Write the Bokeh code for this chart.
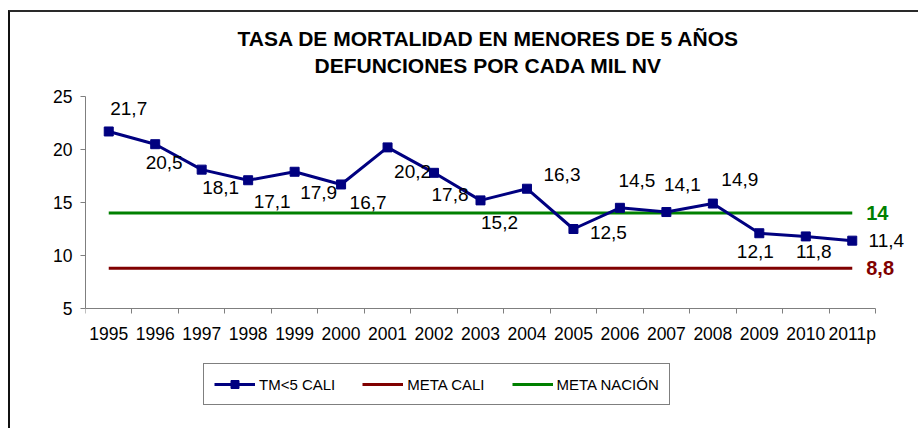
from bokeh.plotting import figure
from bokeh.models import (Range1d, FixedTicker, ColumnDataSource, LabelSet,
                          Legend, LegendItem, Title)
from bokeh.core.properties import value
from bokeh.embed import file_html
from bokeh.resources import INLINE

# ---- data ----
years = ["1995", "1996", "1997", "1998", "1999", "2000", "2001", "2002", "2003",
         "2004", "2005", "2006", "2007", "2008", "2009", "2010", "2011p"]
tm5_cali = [21.7, 20.5, 18.1, 17.1, 17.9, 16.7, 20.2, 17.8, 15.2,
            16.3, 12.5, 14.5, 14.1, 14.9, 12.1, 11.8, 11.4]
meta_cali = 8.8
meta_nacion = 14.0
y_min, y_max = 5, 25
y_ticks = [5, 10, 15, 20, 25]

# label placement (screen px, style only)
label_dx = [20, 9, 19, 24, 24, 27, 25, 16, 19, 35, 35, 17, 16, 27, -4, 8, 34]
label_dy = [23, -18, -18, -21, -21, -18, -24, -22, -22, 14, -3, 27, 28, 24, -18, -15, 0]

FONT = "Liberation Sans"
NAVY = "#000080"
RED = "#800000"
GREEN = "#008000"
AXIS = "#7f7f7f"

n = len(years)
xs = [i + 0.5 for i in range(n)]

# layout (pixels)
W, H = 910, 418
ML, MR, MT, MB = 75, 5, 84, 0
AX_W, AX_H = 790.0, 212.0          # size of the axes box (categories x 5..25)
frame_w, frame_h = W - ML - MR, H - MT - MB
x_end = n * frame_w / AX_W
y_start = y_min - (frame_h - AX_H) * (y_max - y_min) / AX_H

p = figure(width=W, height=H, output_backend="svg", toolbar_location=None,
           x_range=Range1d(0, x_end), y_range=Range1d(y_start, y_max),
           min_border_left=ML, min_border_right=MR, min_border_top=MT,
           min_border_bottom=MB, background_fill_color="white",
           border_fill_color="white", outline_line_color=None)
p.styles = {"margin-left": "8px", "margin-top": "10px",
            "border-top": "2px solid #2a2a2a", "border-left": "2px solid #111111"}

# titles (first added sits closest to the frame); a tiny blank spacer first
spacer = Title(text=" ", text_font_size="1px", standoff=10, vertical_align="bottom")
t2 = Title(text="DEFUNCIONES POR CADA MIL NV", align="left", offset=229,
           text_font=FONT, text_font_size="21px", text_font_style="bold",
           text_color="black", standoff=9, vertical_align="top")
t1 = Title(text="TASA DE MORTALIDAD EN MENORES DE 5 AÑOS", align="left", offset=152,
           text_font=FONT, text_font_size="21px", text_font_style="bold",
           text_color="black", standoff=0, vertical_align="bottom")
p.add_layout(spacer, "above")
p.add_layout(t2, "above")
p.add_layout(t1, "above")

p.grid.visible = False

# x axis (sits on y = 5)
p.xaxis.fixed_location = y_min
p.xaxis.bounds = (0, n)
p.xaxis.ticker = FixedTicker(ticks=xs, minor_ticks=list(range(n + 1)))
p.xaxis.major_label_overrides = {x: y for x, y in zip(xs, years)}
p.xaxis.major_tick_out = 0
p.xaxis.major_tick_in = 0
p.xaxis.minor_tick_out = 5
p.xaxis.minor_tick_in = 0
p.xaxis.minor_tick_line_color = AXIS
p.xaxis.axis_line_color = AXIS
p.xaxis.major_label_standoff = 10
p.xaxis.major_label_text_font = FONT
p.xaxis.major_label_text_font_size = "17.5px"
p.xaxis.major_label_text_color = "black"

# y axis
p.yaxis.bounds = (y_min, y_max)
p.yaxis.ticker = FixedTicker(ticks=y_ticks)
p.yaxis.major_tick_out = 5
p.yaxis.major_tick_in = 0
p.yaxis.minor_tick_line_color = None
p.yaxis.major_tick_line_color = AXIS
p.yaxis.axis_line_color = AXIS
p.yaxis.major_label_standoff = 8
p.yaxis.major_label_text_font = FONT
p.yaxis.major_label_text_font_size = "17.5px"
p.yaxis.major_label_text_color = "black"

# goal lines
r_cali = p.line(xs, [meta_cali] * n, line_color=RED, line_width=3)
r_nac = p.line(xs, [meta_nacion] * n, line_color=GREEN, line_width=3)

# main series
src = ColumnDataSource(dict(
    x=xs, y=tm5_cali,
    txt=[f"{v:.1f}".replace(".", ",") for v in tm5_cali],
    dx=label_dx, dy=label_dy))
r_line = p.line("x", "y", source=src, line_color=NAVY, line_width=3)
r_pts = p.scatter("x", "y", source=src, marker="square", size=9,
                  fill_color=NAVY, line_color=NAVY)

p.add_layout(LabelSet(x="x", y="y", text="txt", source=src, x_offset="dx", y_offset="dy",
                      text_align="center", text_baseline="middle",
                      text_font=value(FONT), text_font_size="19px", text_color="black"))

goal_src = ColumnDataSource(dict(
    x=[xs[-1], xs[-1]], y=[meta_nacion, meta_cali],
    txt=[f"{meta_nacion:g}".replace(".", ","), f"{meta_cali:g}".replace(".", ",")],
    col=[GREEN, RED]))
p.add_layout(LabelSet(x="x", y="y", text="txt", source=goal_src, x_offset=14,
                      text_align="left", text_baseline="middle",
                      text_font=value(FONT), text_font_size="20px",
                      text_font_style="bold", text_color="col"))

legend = Legend(items=[
    LegendItem(label="TM<5 CALI", renderers=[r_line, r_pts]),
    LegendItem(label="META CALI", renderers=[r_cali]),
    LegendItem(label="META NACIÓN", renderers=[r_nac]),
], orientation="horizontal", location=(118, 25),
    border_line_color="black", border_line_width=1, background_fill_color="white",
    background_fill_alpha=1, padding=10, spacing=27, margin=0,
    glyph_width=41, glyph_height=20, label_standoff=4,
    label_text_font=FONT, label_text_font_size="15px", label_text_color="black")
p.add_layout(legend)

open("out.html", "w").write(file_html(p, INLINE))
